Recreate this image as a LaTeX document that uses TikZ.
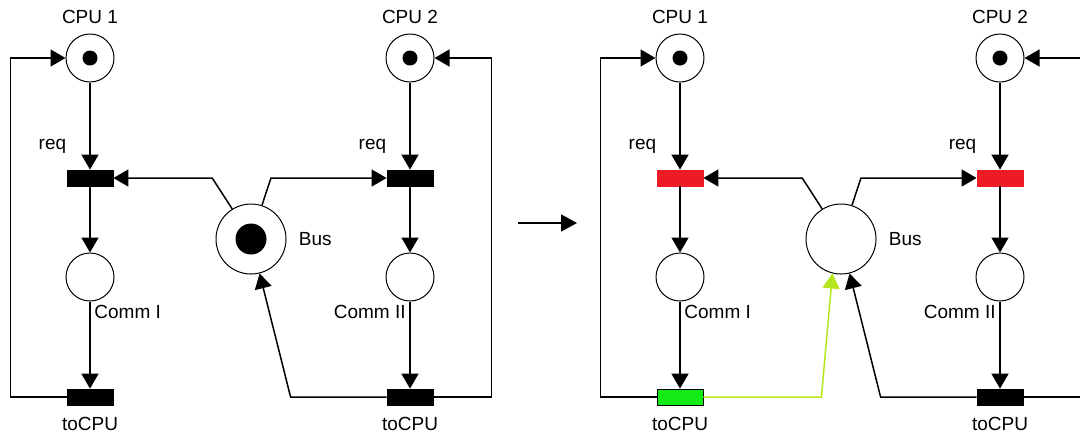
\documentclass[tikz,border=0pt]{standalone}
\usepackage{fontspec}
\setmainfont{Liberation Sans}
\usetikzlibrary{positioning,calc,arrows.meta}
\definecolor{pnred}{RGB}{237,28,36}
\definecolor{pngreen}{RGB}{20,235,20}
\definecolor{pnlime}{RGB}{181,230,29}
\tikzset{
place/.style={circle,draw=black,line width=0.5pt,minimum size=24pt,inner sep=0pt},
bigplace/.style={place,minimum size=35pt},
token/.style={circle,fill=black,minimum size=7.5pt,inner sep=0pt},
bigtoken/.style={token,minimum size=15.5pt},
trans/.style={draw=black,fill=black,minimum width=23pt,minimum height=8pt,inner sep=0pt},
enabled/.style={draw=pnred,fill=pnred},
fired/.style={draw=black,fill=pngreen},
lbl/.style={font=\fontsize{9.5}{11}\selectfont,inner sep=0pt},
arc/.style={-{Triangle[length=7.5pt,width=8.5pt]},line width=0.75pt},
firedarc/.style={arc,draw=pnlime},
nextstate/.style={-{Triangle[length=8pt,width=8.5pt]},line width=0.8pt}
}
% #1 name prefix, #2 x offset, #3 style of req, #4 style of the first toCPU
\newcommand{\CpuNet}[4]{%
\node[place] (#1cpuA) at (#2+90,58) {};
\node[place] (#1cpuB) at (#2+410,58) {};
\node[token] (#1tokA) at (#1cpuA) {};
\node[token] (#1tokB) at (#1cpuB) {};
\node[trans,#3] (#1reqA) at (#2+90,178) {};
\node[trans,#3] (#1reqB) at (#2+410,178) {};
\node[place] (#1commA) at (#2+90,277) {};
\node[place] (#1commB) at (#2+410,277) {};
\node[trans,#4] (#1tocA) at (#2+90,397) {};
\node[trans] (#1tocB) at (#2+410,397) {};
\node[bigplace] (#1bus) at (#2+251,239) {};
\node[lbl,above=4.5pt of #1cpuA] (#1cpuAlbl) {CPU 1};
\node[lbl,above=4.5pt of #1cpuB] (#1cpuBlbl) {CPU 2};
\node[lbl,above left=8pt and 0pt of #1reqA] (#1reqAlbl) {req};
\node[lbl,above left=8pt and 0pt of #1reqB] (#1reqBlbl) {req};
\node[lbl,below right=1.5pt and 2pt of #1commA.south] (#1commAlbl) {Comm I};
\node[lbl,below left=1.5pt and 2pt of #1commB.south] (#1commBlbl) {Comm II};
\node[lbl,right=6pt of #1bus] (#1buslbl) {Bus};
\node[lbl,below=5.5pt of #1tocA] (#1tocAlbl) {toCPU};
\node[lbl,below=5.5pt of #1tocB] (#1tocBlbl) {toCPU};
\draw[arc] (#1cpuA.south) -- (#1reqA.north);
\draw[arc] (#1reqA.south) -- (#1commA.north);
\draw[arc] (#1commA.south) -- (#1tocA.north);
\draw[arc] (#1cpuB.south) -- (#1reqB.north);
\draw[arc] (#1reqB.south) -- (#1commB.north);
\draw[arc] (#1commB.south) -- (#1tocB.north);
\draw[arc] (#1tocA.west) -- ++(-56,0) |- (#1cpuA.west);
\draw[arc] (#1tocB.east) -- ++(58,0) |- (#1cpuB.east);
\draw[arc] (#1bus.122) -- ($(#1bus.122 |- #1reqA.east)+(-20,0)$) -- (#1reqA.east);
\draw[arc] (#1bus.72) -- ($(#1bus.72 |- #1reqB.west)+(9,0)$) -- (#1reqB.west);
\draw[arc] (#1tocB.west) -- ($(#1bus.-76 |- #1tocB.west)+(31,0)$) -- (#1bus.-76);
}

\begin{document}
\begin{tikzpicture}[x=0.5pt,y=-0.5pt]
\useasboundingbox (0,0) rectangle (1080,436);
\clip (0,0) rectangle (1080,436);
\CpuNet{l}{0}{}{}
\node[bigtoken] (ltokbus) at (lbus) {};
\coordinate (goA) at (518,223);
\coordinate (goB) at (577,223);
\draw[nextstate] (goA) -- (goB);
\CpuNet{r}{590}{enabled}{fired}
\draw[firedarc] (rtocA.east) -- ($(rbus.-104 |- rtocA.east)+(-11,0)$) -- (rbus.-104);
\end{tikzpicture}
\end{document}
